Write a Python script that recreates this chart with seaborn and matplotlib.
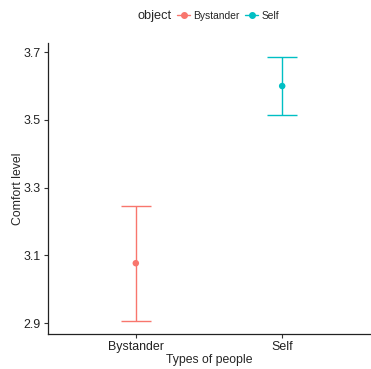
import numpy as np
import pandas as pd
import matplotlib.pyplot as plt
import seaborn as sns
from matplotlib.lines import Line2D

#%% data
groups = ["Bystander", "Self"]
means = [3.077, 3.600]
lower = [2.907, 3.515]
upper = [3.247, 3.685]
colors = ["#F8766D", "#00BFC4"]
yticks = [2.9, 3.1, 3.3, 3.5, 3.7]

df = pd.DataFrame({"object": groups, "comfort": means, "lo": lower, "hi": upper})

#%% plot
sns.set_style("ticks")
plt.rcParams['font.family'] = ['Liberation Sans', 'DejaVu Sans']

fig = plt.figure(figsize=(3.71, 3.69), dpi=100)
ax = fig.add_axes([48/371, 35/369, 322/371, 291/369])

for i, row in df.iterrows():
    ax.errorbar(i, row["comfort"],
                yerr=[[row["comfort"] - row["lo"]], [row["hi"] - row["comfort"]]],
                fmt="none", ecolor=colors[i], elinewidth=1.0, capsize=11, capthick=1.0)
sns.scatterplot(data=df, x="object", y="comfort", hue="object", palette=colors,
                s=22, edgecolor="none", legend=False, ax=ax, zorder=3)

ax.set_xlim(-0.6, 1.6)
ax.set_ylim(2.868, 3.727)
ax.set_yticks(yticks)
ax.set_yticklabels([f"{t:.1f}" for t in yticks])
ax.set_xlabel("Types of people", fontsize=8.8, labelpad=1)
ax.set_ylabel("Comfort level", fontsize=8.8, labelpad=0)
ax.tick_params(axis="both", labelsize=8.9, length=3, width=0.8, color="#333333", pad=2,
               labelcolor="#222222")
for s in ["left", "bottom"]:
    ax.spines[s].set_linewidth(0.9)
    ax.spines[s].set_color("#222222")
sns.despine(ax=ax)

#%% legend on top
handles = [Line2D([0], [0], color=c, marker="o", markersize=4, lw=1) for c in colors]
fig.text(138/371, 1 - 16/369, "object", fontsize=9.2, va="center", ha="left")
fig.legend(handles, groups, ncol=2, loc="center left", bbox_to_anchor=(177/371, 1 - 16/369),
           frameon=False, fontsize=7.4, handlelength=1.3, handletextpad=0.3,
           columnspacing=0.5, borderaxespad=0, borderpad=0)

fig.savefig("out.png", dpi=100)
